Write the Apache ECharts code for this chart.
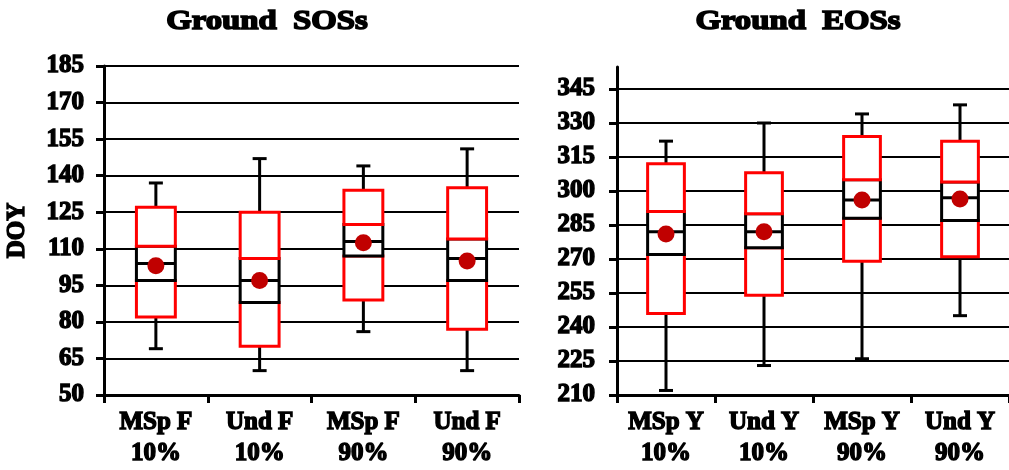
<!DOCTYPE html>
<html>
<head>
<meta charset="utf-8">
<title>Ground SOSs / EOSs</title>
<script src="https://cdn.jsdelivr.net/npm/echarts@6/dist/echarts.min.js"></script>
<style>
  html, body { margin: 0; padding: 0; background: #ffffff; }
  #chart { width: 1009px; height: 470px; }
</style>
</head>
<body>
<div id="chart"></div>
<script>
// Start-of-season (SOS) summaries, day of year
const sosCategories = ['MSp F\n10%', 'Und F\n10%', 'MSp F\n90%', 'Und F\n90%'];
const sosWhiskerLow  = [69, 60, 76, 60];
const sosBoxLow      = [82, 70, 89, 77];
const sosQ1          = [97, 88, 107, 97];
const sosMedian      = [104, 97, 113, 106];
const sosQ3          = [111, 106, 120, 114];
const sosBoxHigh     = [127, 125, 134, 135];
const sosWhiskerHigh = [137, 147, 144, 151];
const sosMean        = [103, 97, 112.5, 105];

// End-of-season (EOS) summaries, day of year
const eosCategories = ['MSp Y\n10%', 'Und Y\n10%', 'MSp Y\n90%', 'Und Y\n90%'];
const eosWhiskerLow  = [212, 223, 226, 245];
const eosBoxLow      = [246, 254, 269, 271];
const eosQ1          = [272, 275, 288, 287];
const eosMedian      = [282, 282, 296, 297];
const eosQ3          = [291, 290, 305, 304];
const eosBoxHigh     = [312, 308, 324, 322];
const eosWhiskerHigh = [322, 330, 334, 338];
const eosMean        = [281, 282, 296, 296.5];

// Axis ranges
const sosAxis = { min: 50, max: 185, interval: 15 };
const eosAxis = { min: 210, max: 345, interval: 15 };

const FONT = '"Liberation Serif", "Times New Roman", serif';
const RED = '#ff0000';
const DOT = '#c00000';

function boxRows(wl, bl, q1, med, q3, bh, wh) {
  return wl.map((_, i) => [i, wl[i], bl[i], q1[i], med[i], q3[i], bh[i], wh[i]]);
}

// Whiskers, red outer box halves, black inner box with median line
function renderBox(params, api) {
  const i = api.value(0);
  const p = v => api.coord([i, v]);
  const cx = p(api.value(1))[0];
  const bw = api.size([1, 0])[0] * 0.375;
  const cap = 14;
  const yWL = p(api.value(1))[1], yBL = p(api.value(2))[1], yQ1 = p(api.value(3))[1];
  const yMed = p(api.value(4))[1], yQ3 = p(api.value(5))[1], yBH = p(api.value(6))[1];
  const yWH = p(api.value(7))[1];
  const black = { stroke: '#000', lineWidth: 3 };
  const rect = (top, bottom, color) => ({
    type: 'rect',
    shape: { x: cx - bw / 2, y: top, width: bw, height: bottom - top },
    style: { fill: '#fff', stroke: color, lineWidth: 3 }
  });
  const line = (x1, y1, x2, y2) => ({ type: 'line', shape: { x1, y1, x2, y2 }, style: black });
  return {
    type: 'group',
    children: [
      line(cx, yWL, cx, yBL),
      line(cx - cap / 2, yWL, cx + cap / 2, yWL),
      line(cx, yBH, cx, yWH),
      line(cx - cap / 2, yWH, cx + cap / 2, yWH),
      rect(yQ1, yBL, RED),
      rect(yQ3, yQ1, '#000'),
      line(cx - bw / 2, yMed, cx + bw / 2, yMed),
      rect(yBH, yQ3, RED)
    ]
  };
}

const labelStyle = {
  color: '#000', fontFamily: FONT, fontWeight: 'bold', fontSize: 25,
  textBorderColor: '#000', textBorderWidth: 1.4
};

function xAxisFor(cats, gridIndex) {
  return {
    type: 'category', data: cats, gridIndex,
    boundaryGap: true,
    axisLine: { lineStyle: { color: '#000', width: 3 } },
    axisTick: { show: true, length: 8, lineStyle: { color: '#000', width: 3 } },
    axisLabel: Object.assign({ margin: 12, lineHeight: 31, interval: 0 }, labelStyle),
    splitLine: { show: false }
  };
}

function yAxisFor(range, gridIndex, margin, extra) {
  return Object.assign({
    type: 'value', gridIndex,
    min: range.min, max: range.max, interval: range.interval,
    axisLine: { show: true, lineStyle: { color: '#000', width: 3 } },
    axisTick: { show: true, length: 8, lineStyle: { color: '#000', width: 3 } },
    axisLabel: Object.assign({ margin }, labelStyle),
    splitLine: { show: true, lineStyle: { color: '#000', width: 2 } }
  }, extra || {});
}

const chart = echarts.init(document.getElementById('chart'), null, { renderer: 'canvas' });

const titleStyle = {
  text: '', fontFamily: FONT, fontWeight: 'bold', fontSize: 28,
  fill: '#000', align: 'center', verticalAlign: 'middle',
  stroke: '#000', lineWidth: 1.6
};

chart.setOption({
  backgroundColor: '#ffffff',
  animation: false,
  graphic: [
    { type: 'text', x: 267, y: 22, scaleX: 1.17, style: Object.assign({}, titleStyle, { text: 'Ground  SOSs' }) },
    { type: 'text', x: 798, y: 22, scaleX: 1.17, style: Object.assign({}, titleStyle, { text: 'Ground  EOSs' }) }
  ],
  grid: [
    { left: 104, top: 66, width: 415, bottom: 75 },
    { left: 617, top: 89, width: 401, bottom: 75 },
    // taller frame that carries the EOS axis line above the top tick
    { left: 617, top: 67, width: 401, bottom: 75 }
  ],
  xAxis: [
    xAxisFor(sosCategories, 0),
    xAxisFor(eosCategories, 1),
    { type: 'category', gridIndex: 2, show: false, data: eosCategories }
  ],
  yAxis: [
    yAxisFor(sosAxis, 0, 20, {
      name: 'DOY', nameLocation: 'middle', nameRotate: 90, nameGap: 74,
      nameTextStyle: Object.assign({}, labelStyle, { fontSize: 25 })
    }),
    yAxisFor(eosAxis, 1, 22),
    {
      type: 'value', gridIndex: 2, min: 0, max: 1,
      axisLine: { show: true, lineStyle: { color: '#000', width: 3 } },
      axisTick: { show: false }, axisLabel: { show: false }, splitLine: { show: false }
    }
  ],
  series: [
    {
      type: 'custom', xAxisIndex: 0, yAxisIndex: 0, z: 3,
      renderItem: renderBox,
      encode: { x: 0, y: [1, 2, 3, 4, 5, 6, 7] },
      data: boxRows(sosWhiskerLow, sosBoxLow, sosQ1, sosMedian, sosQ3, sosBoxHigh, sosWhiskerHigh)
    },
    {
      type: 'scatter', xAxisIndex: 0, yAxisIndex: 0, z: 5,
      symbol: 'circle', symbolSize: 17,
      itemStyle: { color: DOT, opacity: 1 },
      data: sosMean.map((v, i) => [i, v])
    },
    {
      type: 'custom', xAxisIndex: 1, yAxisIndex: 1, z: 3,
      renderItem: renderBox,
      encode: { x: 0, y: [1, 2, 3, 4, 5, 6, 7] },
      data: boxRows(eosWhiskerLow, eosBoxLow, eosQ1, eosMedian, eosQ3, eosBoxHigh, eosWhiskerHigh)
    },
    {
      type: 'scatter', xAxisIndex: 1, yAxisIndex: 1, z: 5,
      symbol: 'circle', symbolSize: 17,
      itemStyle: { color: DOT, opacity: 1 },
      data: eosMean.map((v, i) => [i, v])
    }
  ]
});
</script>
</body>
</html>
